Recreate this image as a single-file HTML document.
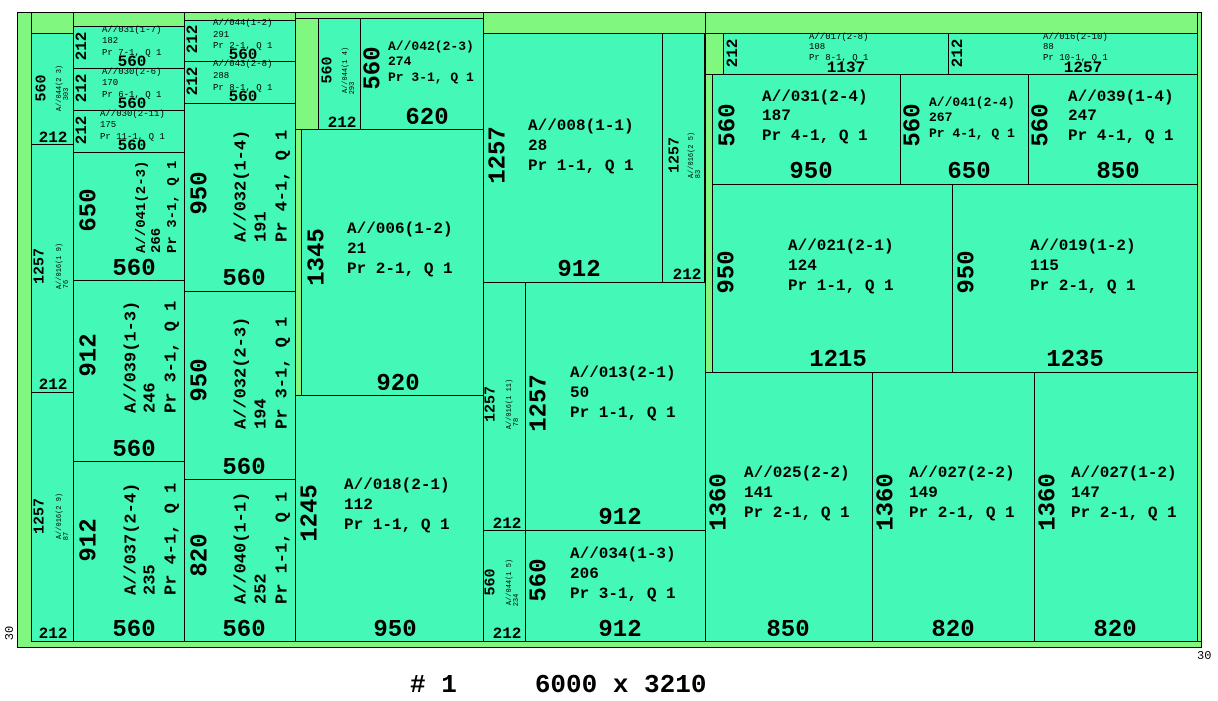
<!DOCTYPE html>
<html><head><meta charset="utf-8"><style>
html,body{margin:0;padding:0;background:#fff;}
svg{display:block;}
text{font-family:"Liberation Mono",monospace;font-weight:bold;fill:#000;}
.p{fill:#44f8b8;stroke:#000;stroke-width:1;}
.g{fill:#80f880;stroke:#000;stroke-width:1;}
.L{font-size:24px;}
.M{font-size:16px;}
.R{font-size:17px;}
.N{font-size:14px;}
.S{font-size:9px;font-weight:normal;}
.T{font-size:7px;font-weight:normal;}
.X{font-size:15px;}
</style></head><body>
<svg width="1218" height="701" viewBox="0 0 1218 701" xmlns="http://www.w3.org/2000/svg">
<!-- sheet -->
<rect class="g" x="17.5" y="12.5" width="1184" height="635"/>
<!-- col1 -->
<rect class="g" x="31.5" y="12.5" width="42" height="21"/>
<rect class="p" x="31.5" y="33.5" width="42" height="111"/>
<rect class="p" x="31.5" y="144.5" width="42" height="248"/>
<rect class="p" x="31.5" y="392.5" width="42" height="249"/>
<text class="X" transform="translate(42,88) rotate(-90)" text-anchor="middle" dominant-baseline="central">560</text>
<text class="T" transform="translate(60,88) rotate(-90)" text-anchor="middle" dominant-baseline="central">A//044(2 3)</text>
<text class="T" transform="translate(67,94) rotate(-90)" text-anchor="middle" dominant-baseline="central">303</text>
<text class="M" x="53" y="142" text-anchor="middle">212</text>
<text class="X" transform="translate(40,266) rotate(-90)" text-anchor="middle" dominant-baseline="central">1257</text>
<text class="T" transform="translate(60,266) rotate(-90)" text-anchor="middle" dominant-baseline="central">A//016(1 9)</text>
<text class="T" transform="translate(67,284) rotate(-90)" text-anchor="middle" dominant-baseline="central">76</text>
<text class="M" x="53" y="389" text-anchor="middle">212</text>
<text class="X" transform="translate(40,516) rotate(-90)" text-anchor="middle" dominant-baseline="central">1257</text>
<text class="T" transform="translate(60,516) rotate(-90)" text-anchor="middle" dominant-baseline="central">A//016(2 9)</text>
<text class="T" transform="translate(67,536) rotate(-90)" text-anchor="middle" dominant-baseline="central">87</text>
<text class="M" x="53" y="638" text-anchor="middle">212</text>
<!-- col2 -->
<rect class="g" x="73.5" y="12.5" width="111" height="14"/>
<rect class="p" x="73.5" y="26.5" width="111" height="42"/>
<rect class="p" x="73.5" y="68.5" width="111" height="42"/>
<rect class="p" x="73.5" y="110.5" width="111" height="42"/>
<rect class="p" x="73.5" y="152.5" width="111" height="128"/>
<rect class="p" x="73.5" y="280.5" width="111" height="181"/>
<rect class="p" x="73.5" y="461.5" width="111" height="180"/>
<text class="M" transform="translate(82,46) rotate(-90)" text-anchor="middle" dominant-baseline="central">212</text>
<text class="S" x="102" y="32">A//031(1-7)</text><text class="S" x="102" y="43">182</text><text class="S" x="102" y="55">Pr 7-1, Q 1</text>
<text class="M" x="132" y="66" text-anchor="middle">560</text>
<text class="M" transform="translate(82,88) rotate(-90)" text-anchor="middle" dominant-baseline="central">212</text>
<text class="S" x="102" y="74">A//030(2-6)</text><text class="S" x="102" y="85">170</text><text class="S" x="102" y="97">Pr 6-1, Q 1</text>
<text class="M" x="132" y="108" text-anchor="middle">560</text>
<text class="M" transform="translate(82,130) rotate(-90)" text-anchor="middle" dominant-baseline="central">212</text>
<text class="S" x="100" y="116">A//030(2-11)</text><text class="S" x="100" y="127">175</text><text class="S" x="100" y="139">Pr 11-1, Q 1</text>
<text class="M" x="132" y="150" text-anchor="middle">560</text>
<text class="L" transform="translate(90,210) rotate(-90)" text-anchor="middle" dominant-baseline="central">650</text>
<text class="N" transform="translate(142,253) rotate(-90)" dominant-baseline="central">A//041(2-3)</text>
<text class="N" transform="translate(157,253) rotate(-90)" dominant-baseline="central">266</text>
<text class="N" transform="translate(173,253) rotate(-90)" dominant-baseline="central">Pr 3-1, Q 1</text>
<text class="L" x="134" y="275" text-anchor="middle">560</text>
<text class="L" transform="translate(90,355) rotate(-90)" text-anchor="middle" dominant-baseline="central">912</text>
<text class="R" transform="translate(132,413) rotate(-90)" dominant-baseline="central">A//039(1-3)</text>
<text class="R" transform="translate(151,413) rotate(-90)" dominant-baseline="central">246</text>
<text class="R" transform="translate(172,413) rotate(-90)" dominant-baseline="central">Pr 3-1, Q 1</text>
<text class="L" x="134" y="456" text-anchor="middle">560</text>
<text class="L" transform="translate(90,540) rotate(-90)" text-anchor="middle" dominant-baseline="central">912</text>
<text class="R" transform="translate(132,595) rotate(-90)" dominant-baseline="central">A//037(2-4)</text>
<text class="R" transform="translate(151,595) rotate(-90)" dominant-baseline="central">235</text>
<text class="R" transform="translate(172,595) rotate(-90)" dominant-baseline="central">Pr 4-1, Q 1</text>
<text class="L" x="134" y="636" text-anchor="middle">560</text>
<!-- col3 -->
<rect class="g" x="184.5" y="12.5" width="111" height="8"/>
<rect class="p" x="184.5" y="20.5" width="111" height="41"/>
<rect class="p" x="184.5" y="61.5" width="111" height="42"/>
<rect class="p" x="184.5" y="103.5" width="111" height="188"/>
<rect class="p" x="184.5" y="291.5" width="111" height="188"/>
<rect class="p" x="184.5" y="479.5" width="111" height="162"/>
<text class="M" transform="translate(193,39) rotate(-90)" text-anchor="middle" dominant-baseline="central">212</text>
<text class="S" x="213" y="25">A//044(1-2)</text><text class="S" x="213" y="37">291</text><text class="S" x="213" y="48">Pr 2-1, Q 1</text>
<text class="M" x="243" y="59" text-anchor="middle">560</text>
<text class="M" transform="translate(193,81) rotate(-90)" text-anchor="middle" dominant-baseline="central">212</text>
<text class="S" x="213" y="66">A//043(2-8)</text><text class="S" x="213" y="78">288</text><text class="S" x="213" y="90">Pr 8-1, Q 1</text>
<text class="M" x="243" y="101" text-anchor="middle">560</text>
<text class="L" transform="translate(201,193) rotate(-90)" text-anchor="middle" dominant-baseline="central">950</text>
<text class="R" transform="translate(242,242) rotate(-90)" dominant-baseline="central">A//032(1-4)</text>
<text class="R" transform="translate(262,242) rotate(-90)" dominant-baseline="central">191</text>
<text class="R" transform="translate(283,242) rotate(-90)" dominant-baseline="central">Pr 4-1, Q 1</text>
<text class="L" x="244" y="285" text-anchor="middle">560</text>
<text class="L" transform="translate(201,380) rotate(-90)" text-anchor="middle" dominant-baseline="central">950</text>
<text class="R" transform="translate(242,429) rotate(-90)" dominant-baseline="central">A//032(2-3)</text>
<text class="R" transform="translate(262,429) rotate(-90)" dominant-baseline="central">194</text>
<text class="R" transform="translate(283,429) rotate(-90)" dominant-baseline="central">Pr 3-1, Q 1</text>
<text class="L" x="244" y="474" text-anchor="middle">560</text>
<text class="L" transform="translate(201,555) rotate(-90)" text-anchor="middle" dominant-baseline="central">820</text>
<text class="R" transform="translate(242,604) rotate(-90)" dominant-baseline="central">A//040(1-1)</text>
<text class="R" transform="translate(262,604) rotate(-90)" dominant-baseline="central">252</text>
<text class="R" transform="translate(283,604) rotate(-90)" dominant-baseline="central">Pr 1-1, Q 1</text>
<text class="L" x="244" y="636" text-anchor="middle">560</text>
<!-- col4 -->
<rect class="g" x="295.5" y="12.5" width="188" height="6"/>
<rect class="g" x="295.5" y="18.5" width="23" height="111"/>
<rect class="p" x="318.5" y="18.5" width="42" height="111"/>
<rect class="p" x="360.5" y="18.5" width="123" height="111"/>
<rect class="g" x="295.5" y="129.5" width="6" height="266"/>
<rect class="p" x="301.5" y="129.5" width="182" height="266"/>
<rect class="p" x="295.5" y="395.5" width="188" height="246"/>
<text class="X" transform="translate(328,70) rotate(-90)" text-anchor="middle" dominant-baseline="central">560</text>
<text class="T" transform="translate(346,70) rotate(-90)" text-anchor="middle" dominant-baseline="central">A//044(1 4)</text>
<text class="T" transform="translate(353,88) rotate(-90)" text-anchor="middle" dominant-baseline="central">293</text>
<text class="M" x="342" y="127" text-anchor="middle">212</text>
<text class="L" transform="translate(374,68) rotate(-90)" text-anchor="middle" dominant-baseline="central">560</text>
<text style="font-size:13px" x="388" y="50">A//042(2-3)</text>
<text style="font-size:13px" x="388" y="65">274</text>
<text style="font-size:13px" x="388" y="81">Pr 3-1, Q 1</text>
<text class="L" x="427" y="124" text-anchor="middle">620</text>
<text class="L" transform="translate(318,257) rotate(-90)" text-anchor="middle" dominant-baseline="central">1345</text>
<text class="M" x="347" y="233">A//006(1-2)</text><text class="M" x="347" y="253">21</text><text class="M" x="347" y="273">Pr 2-1, Q 1</text>
<text class="L" x="398" y="390" text-anchor="middle">920</text>
<text class="L" transform="translate(311,513) rotate(-90)" text-anchor="middle" dominant-baseline="central">1245</text>
<text class="M" x="344" y="489">A//018(2-1)</text><text class="M" x="344" y="509">112</text><text class="M" x="344" y="529">Pr 1-1, Q 1</text>
<text class="L" x="395" y="636" text-anchor="middle">950</text>
<!-- col5 -->
<rect class="g" x="483.5" y="12.5" width="222" height="21"/>
<rect class="p" x="483.5" y="33.5" width="179" height="249"/>
<rect class="p" x="662.5" y="33.5" width="42" height="249"/>
<rect class="p" x="483.5" y="282.5" width="42" height="248"/>
<rect class="p" x="525.5" y="282.5" width="180" height="248"/>
<rect class="p" x="483.5" y="530.5" width="42" height="111"/>
<rect class="p" x="525.5" y="530.5" width="180" height="111"/>
<text class="L" transform="translate(499,155) rotate(-90)" text-anchor="middle" dominant-baseline="central">1257</text>
<text class="M" x="528" y="130">A//008(1-1)</text><text class="M" x="528" y="150">28</text><text class="M" x="528" y="170">Pr 1-1, Q 1</text>
<text class="L" x="579" y="276" text-anchor="middle">912</text>
<text class="X" transform="translate(675,155) rotate(-90)" text-anchor="middle" dominant-baseline="central">1257</text>
<text class="T" transform="translate(692,155) rotate(-90)" text-anchor="middle" dominant-baseline="central">A//016(2 5)</text>
<text class="T" transform="translate(699,174) rotate(-90)" text-anchor="middle" dominant-baseline="central">83</text>
<text class="M" x="687" y="279" text-anchor="middle">212</text>
<text class="X" transform="translate(491,404) rotate(-90)" text-anchor="middle" dominant-baseline="central">1257</text>
<text class="T" transform="translate(510,404) rotate(-90)" text-anchor="middle" dominant-baseline="central">A//016(1 11)</text>
<text class="T" transform="translate(517,422) rotate(-90)" text-anchor="middle" dominant-baseline="central">78</text>
<text class="M" x="507" y="528" text-anchor="middle">212</text>
<text class="L" transform="translate(540,403) rotate(-90)" text-anchor="middle" dominant-baseline="central">1257</text>
<text class="M" x="570" y="377">A//013(2-1)</text><text class="M" x="570" y="397">50</text><text class="M" x="570" y="417">Pr 1-1, Q 1</text>
<text class="L" x="620" y="524" text-anchor="middle">912</text>
<text class="X" transform="translate(491,582) rotate(-90)" text-anchor="middle" dominant-baseline="central">560</text>
<text class="T" transform="translate(510,582) rotate(-90)" text-anchor="middle" dominant-baseline="central">A//044(1 5)</text>
<text class="T" transform="translate(517,600) rotate(-90)" text-anchor="middle" dominant-baseline="central">234</text>
<text class="M" x="507" y="638" text-anchor="middle">212</text>
<text class="L" transform="translate(540,580) rotate(-90)" text-anchor="middle" dominant-baseline="central">560</text>
<text class="M" x="570" y="558">A//034(1-3)</text><text class="M" x="570" y="578">206</text><text class="M" x="570" y="598">Pr 3-1, Q 1</text>
<text class="L" x="620" y="636" text-anchor="middle">912</text>
<!-- col6 -->
<rect class="g" x="705.5" y="12.5" width="492" height="21"/>
<rect class="g" x="1197.5" y="12.5" width="4" height="629"/>
<rect class="g" x="705.5" y="33.5" width="18" height="41"/>
<rect class="p" x="723.5" y="33.5" width="225" height="41"/>
<rect class="p" x="948.5" y="33.5" width="249" height="41"/>
<rect class="g" x="705.5" y="74.5" width="7" height="298"/>
<rect class="p" x="712.5" y="74.5" width="188" height="110"/>
<rect class="p" x="900.5" y="74.5" width="128" height="110"/>
<rect class="p" x="1028.5" y="74.5" width="169" height="110"/>
<rect class="p" x="712.5" y="184.5" width="240" height="188"/>
<rect class="p" x="952.5" y="184.5" width="245" height="188"/>
<rect class="p" x="705.5" y="372.5" width="167" height="269"/>
<rect class="p" x="872.5" y="372.5" width="162" height="269"/>
<rect class="p" x="1034.5" y="372.5" width="163" height="269"/>
<text class="M" transform="translate(733,53) rotate(-90)" text-anchor="middle" dominant-baseline="central">212</text>
<text class="S" x="809" y="39">A//017(2-8)</text><text class="S" x="809" y="49">108</text><text class="S" x="809" y="60">Pr 8-1, Q 1</text>
<text class="M" x="846" y="72" text-anchor="middle">1137</text>
<text class="M" transform="translate(958,53) rotate(-90)" text-anchor="middle" dominant-baseline="central">212</text>
<text class="S" x="1043" y="39">A//016(2-10)</text><text class="S" x="1043" y="49">88</text><text class="S" x="1043" y="60">Pr 10-1, Q 1</text>
<text class="M" x="1083" y="72" text-anchor="middle">1257</text>
<text class="L" transform="translate(729,125) rotate(-90)" text-anchor="middle" dominant-baseline="central">560</text>
<text class="M" x="762" y="101">A//031(2-4)</text><text class="M" x="762" y="120">187</text><text class="M" x="762" y="140">Pr 4-1, Q 1</text>
<text class="L" x="811" y="178" text-anchor="middle">950</text>
<text class="L" transform="translate(914,125) rotate(-90)" text-anchor="middle" dominant-baseline="central">560</text>
<text style="font-size:13px" x="929" y="106">A//041(2-4)</text><text style="font-size:13px" x="929" y="121">267</text><text style="font-size:13px" x="929" y="137">Pr 4-1, Q 1</text>
<text class="L" x="969" y="178" text-anchor="middle">650</text>
<text class="L" transform="translate(1042,125) rotate(-90)" text-anchor="middle" dominant-baseline="central">560</text>
<text class="M" x="1068" y="101">A//039(1-4)</text><text class="M" x="1068" y="120">247</text><text class="M" x="1068" y="140">Pr 4-1, Q 1</text>
<text class="L" x="1118" y="178" text-anchor="middle">850</text>
<text class="L" transform="translate(728,272) rotate(-90)" text-anchor="middle" dominant-baseline="central">950</text>
<text class="M" x="788" y="250">A//021(2-1)</text><text class="M" x="788" y="270">124</text><text class="M" x="788" y="290">Pr 1-1, Q 1</text>
<text class="L" x="838" y="366" text-anchor="middle">1215</text>
<text class="L" transform="translate(968,272) rotate(-90)" text-anchor="middle" dominant-baseline="central">950</text>
<text class="M" x="1030" y="250">A//019(1-2)</text><text class="M" x="1030" y="270">115</text><text class="M" x="1030" y="290">Pr 2-1, Q 1</text>
<text class="L" x="1075" y="366" text-anchor="middle">1235</text>
<text class="L" transform="translate(720,502) rotate(-90)" text-anchor="middle" dominant-baseline="central">1360</text>
<text class="M" x="744" y="477">A//025(2-2)</text><text class="M" x="744" y="497">141</text><text class="M" x="744" y="517">Pr 2-1, Q 1</text>
<text class="L" x="788" y="636" text-anchor="middle">850</text>
<text class="L" transform="translate(887,502) rotate(-90)" text-anchor="middle" dominant-baseline="central">1360</text>
<text class="M" x="909" y="477">A//027(2-2)</text><text class="M" x="909" y="497">149</text><text class="M" x="909" y="517">Pr 2-1, Q 1</text>
<text class="L" x="953" y="636" text-anchor="middle">820</text>
<text class="L" transform="translate(1049,502) rotate(-90)" text-anchor="middle" dominant-baseline="central">1360</text>
<text class="M" x="1071" y="477">A//027(1-2)</text><text class="M" x="1071" y="497">147</text><text class="M" x="1071" y="517">Pr 2-1, Q 1</text>
<text class="L" x="1115" y="636" text-anchor="middle">820</text>
<!-- trims -->
<text style="font-size:12px;font-weight:normal" transform="translate(10,633) rotate(-90)" text-anchor="middle" dominant-baseline="central">30</text>
<text style="font-size:12px;font-weight:normal" x="1197" y="659">30</text>
<text style="font-size:26px" x="410" y="692" xml:space="preserve"># 1     6000 x 3210</text>
</svg>
</body></html>
